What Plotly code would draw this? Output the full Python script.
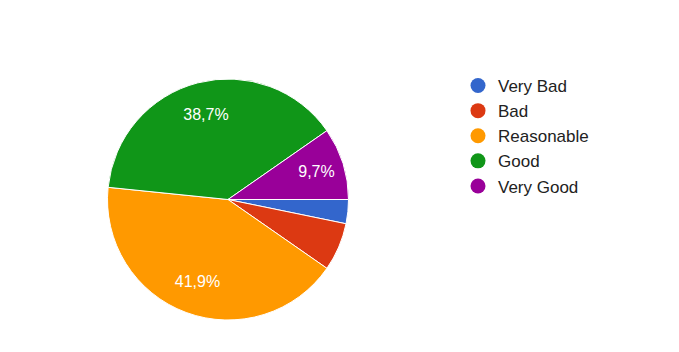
import plotly.graph_objects as go

categories = ["Very Bad", "Bad", "Reasonable", "Good", "Very Good"]
counts = [1, 2, 13, 12, 3]
colors = ["#3366cc", "#dc3912", "#ff9900", "#109618", "#990099"]

total = sum(counts)
labels_txt = []
for c in counts:
    p = c / total * 100
    labels_txt.append(("%.1f" % p).replace(".", ",") + "%" if p >= 8 else "")

W, H = 679, 352
dom = dict(x=[107 / W, 349 / W], y=[(H - 320) / H, (H - 79) / H])
fig = go.Figure()
# filled pie
fig.add_trace(go.Pie(
    labels=categories, values=counts, sort=False, direction="clockwise", rotation=90,
    marker=dict(colors=colors, line=dict(color="white", width=1)),
    textinfo="none", showlegend=False, hoverinfo="label+percent", domain=dom,
))
# transparent ring carrying the percentage labels
fig.add_trace(go.Pie(
    labels=categories, values=counts, sort=False, direction="clockwise", rotation=90,
    hole=0.46,
    marker=dict(colors=["rgba(0,0,0,0)"] * len(categories), line=dict(width=0)),
    text=labels_txt, texttemplate="%{text}", textposition="inside",
    insidetextorientation="horizontal",
    textfont=dict(family="Arial, Liberation Sans", size=16, color="white"),
    showlegend=False, hoverinfo="skip", domain=dom,
))
for i, (cat, col) in enumerate(zip(categories, colors)):
    fig.add_trace(go.Scatter(
        x=[None], y=[None], mode="markers", name=cat, legendgroup="g%d" % i,
        marker=dict(symbol="circle", size=15, color=col),
    ))

fig.update_layout(
    width=W, height=H, margin=dict(l=0, r=0, t=0, b=0),
    paper_bgcolor="white", plot_bgcolor="white",
    xaxis=dict(visible=False), yaxis=dict(visible=False),
    legend=dict(x=458 / W, y=1 - 68 / H, xanchor="left", yanchor="top",
                font=dict(family="Arial, Liberation Sans", size=17, color="#222222"),
                tracegroupgap=0, itemwidth=30),
    font=dict(family="Arial, Liberation Sans"),
)
fig.write_html("out.html")
